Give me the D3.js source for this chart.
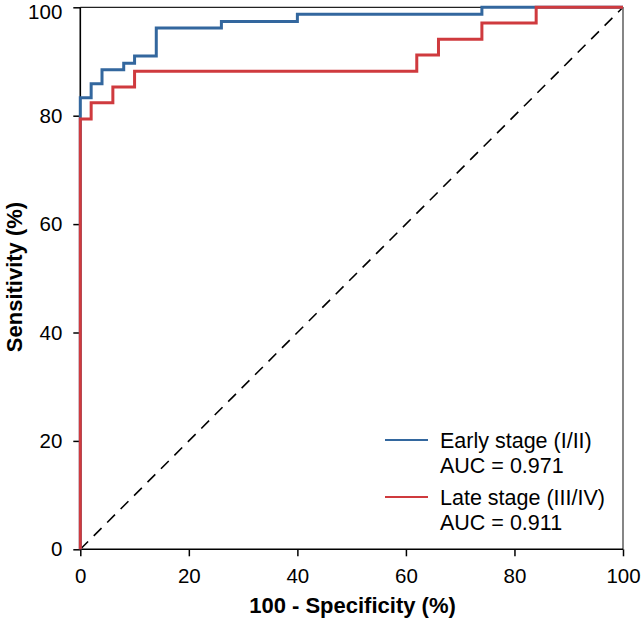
<!DOCTYPE html>
<html>
<head>
<meta charset="utf-8">
<script src="https://cdn.jsdelivr.net/npm/d3@7"></script>
<style>
  html, body { margin: 0; padding: 0; background: #fff; }
  svg { display: block; }
  text { font-family: "Liberation Sans", Arial, Helvetica, sans-serif; fill: #000; }
</style>
</head>
<body>
<svg id="chart" width="641" height="621"></svg>
<script>
// ---- data ----
const earlyFPR = [0, 0, 2, 4, 8, 10, 14, 26, 40, 74, 100];
const earlySens = [0, 83.3, 85.9, 88.5, 89.7, 91.0, 96.2, 97.4, 98.7, 100, 100];
const lateFPR = [0, 0, 2, 6, 10, 62, 66, 74, 84, 100];
const lateSens = [0, 79.4, 82.4, 85.3, 88.2, 91.2, 94.1, 97.1, 100, 100];
const seriesNames = ["Early stage (I/II)", "Late stage (III/IV)"];
const aucLabels = ["AUC = 0.971", "AUC = 0.911"];
const xTicks = [0, 20, 40, 60, 80, 100];
const yTicks = [0, 20, 40, 60, 80, 100];
const xTitle = "100 - Specificity (%)";
const yTitle = "Sensitivity (%)";

// ---- layout ----
(function () {
const svg = d3.select("#chart");
const pl = 80.3, pr = 623, pt = 7.3, pb = 549.3;
const x = d3.scaleLinear().domain([0, 100]).range([pl, pr]);
const y = d3.scaleLinear().domain([0, 100]).range([pb, pt]);
const colors = ["#33679e", "#cf3a3e"];

// frame (top and right)
svg.append("line").attr("x1", x(0)).attr("x2", x(100)).attr("y1", y(100)).attr("y2", y(100))
  .attr("stroke", "#222").attr("stroke-width", 1.3);
svg.append("line").attr("x1", x(100)).attr("x2", x(100)).attr("y1", y(100)).attr("y2", y(0))
  .attr("stroke", "#444").attr("stroke-width", 1.3);

// diagonal reference
svg.append("line").attr("x1", x(0)).attr("y1", y(0)).attr("x2", x(100)).attr("y2", y(100))
  .attr("stroke", "#000").attr("stroke-width", 1.6).attr("stroke-dasharray", "11,8");

// axes
const xAxis = svg.append("g").attr("transform", `translate(0,${pb})`)
  .call(d3.axisBottom(x).tickValues(xTicks).tickSize(7).tickPadding(12).tickFormat(d3.format("d")));
const yAxis = svg.append("g").attr("transform", `translate(${pl},0)`)
  .call(d3.axisLeft(y).tickValues(yTicks).tickSize(7).tickPadding(11).tickFormat(d3.format("d")));
[xAxis, yAxis].forEach(g => {
  g.select(".domain").attr("stroke", "#000").attr("stroke-width", 1.6);
  g.selectAll(".tick line").attr("stroke", "#000").attr("stroke-width", 1.5);
  g.selectAll(".tick text").attr("font-size", 20.5).attr("fill", "#000")
    .style("font-family", '"Liberation Sans", Arial, sans-serif');
});
// keep the top "100" label inside the picture
yAxis.selectAll(".tick").filter(d => d === 100).select("text").attr("y", 4.5);
xAxis.select(".domain").attr("d", `M${pl},0H${pr}`);
yAxis.select(".domain").attr("d", `M0,${pb}V${pt}`);

// curves
const line = d3.line().x(d => x(d[0])).y(d => y(d[1])).curve(d3.curveStepAfter);
const earlyPts = earlyFPR.map((v, i) => [v, earlySens[i]]);
const latePts = lateFPR.map((v, i) => [v, lateSens[i]]);
svg.append("path").datum(earlyPts).attr("d", line).attr("fill", "none")
  .attr("stroke", colors[0]).attr("stroke-width", 3);
svg.append("path").datum(latePts).attr("d", line).attr("fill", "none")
  .attr("stroke", colors[1]).attr("stroke-width", 3);

// axis titles
svg.append("text").attr("x", 352.5).attr("y", 613).attr("text-anchor", "middle")
  .attr("font-size", 22).attr("font-weight", "bold").text(xTitle);
svg.append("text").attr("transform", `translate(22,277) rotate(-90)`)
  .attr("text-anchor", "middle").attr("font-size", 22).attr("font-weight", "bold").text(yTitle);

// legend
const legY = [440, 497];
seriesNames.forEach((name, i) => {
  svg.append("line").attr("x1", 385).attr("x2", 428).attr("y1", legY[i]).attr("y2", legY[i])
    .attr("stroke", colors[i]).attr("stroke-width", 2.2);
  svg.append("text").attr("x", 440).attr("y", legY[i] + 8).attr("font-size", 21.5).text(name);
  svg.append("text").attr("x", 440).attr("y", legY[i] + 33).attr("font-size", 21.5).text(aucLabels[i]);
});
})();
</script>
</body>
</html>
